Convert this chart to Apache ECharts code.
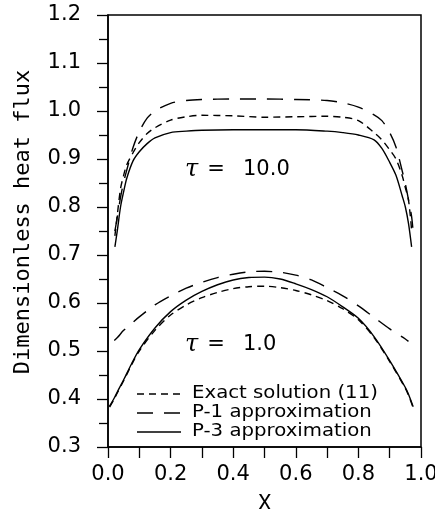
<!DOCTYPE html>
<html>
<head>
<meta charset="utf-8">
<script src="https://cdn.jsdelivr.net/npm/echarts@6/dist/echarts.min.js"></script>
<style>
  html, body { margin: 0; padding: 0; background: #fff; }
  #chart { width: 435px; height: 509px; }
</style>
</head>
<body>
<div id="chart"></div>
<script>
// Dimensionless heat flux across the slab, optical thickness tau = 10.0 and tau = 1.0
const seriesNames = ['Exact solution (11)', 'P-1 approximation', 'P-3 approximation'];

// tau = 10.0
const xTau10 = [0.022, 0.03, 0.04, 0.05, 0.06, 0.08, 0.1, 0.125, 0.15, 0.2, 0.25, 0.3, 0.4, 0.5,
                0.6, 0.7, 0.75, 0.8, 0.85, 0.875, 0.9, 0.92, 0.94, 0.95, 0.96, 0.97, 0.976];
const exactTau10 = [0.740, 0.785, 0.838, 0.866, 0.888, 0.913, 0.934, 0.953, 0.965, 0.981, 0.988, 0.991, 0.990, 0.987,
                    0.988, 0.989, 0.987, 0.980, 0.955, 0.940, 0.919, 0.900, 0.865, 0.840, 0.815, 0.752, null];
const p1Tau10 = [0.750, 0.780, 0.820, 0.852, 0.877, 0.924, 0.957, 0.985, 1.000, 1.016, 1.022, 1.024, 1.025, 1.025,
                 1.024, 1.022, 1.017, 1.008, 0.992, 0.980, 0.955, 0.925, 0.875, 0.848, 0.815, 0.780, 0.740];
const p3Tau10 = [0.717, 0.752, 0.800, 0.832, 0.860, 0.896, 0.915, 0.932, 0.944, 0.955, 0.958, 0.960, 0.961, 0.961,
                 0.961, 0.958, 0.955, 0.950, 0.940, 0.922, 0.893, 0.866, 0.823, 0.800, 0.766, 0.717, null];

// tau = 1.0
const xTau1 = [0.005, 0.02, 0.03, 0.05, 0.075, 0.1, 0.15, 0.2, 0.25, 0.3, 0.35, 0.4, 0.45, 0.5,
               0.55, 0.6, 0.65, 0.7, 0.75, 0.8, 0.85, 0.9, 0.95, 0.96, 0.975];
const exactTau1 = [0.383, 0.400, 0.413, 0.438, 0.471, 0.500, 0.543, 0.575, 0.596, 0.611, 0.622, 0.630, 0.634, 0.635,
                   0.632, 0.626, 0.617, 0.605, 0.588, 0.565, 0.528, 0.478, 0.422, 0.408, 0.382];
const p1Tau1 = [null, 0.522, 0.528, 0.543, 0.557, 0.571, 0.596, 0.615, 0.631, 0.643, 0.653, 0.660, 0.665, 0.666,
                0.664, 0.658, 0.648, 0.632, 0.615, 0.594, 0.570, 0.546, 0.525, 0.520, null];
const p3Tau1 = [0.385, 0.402, 0.415, 0.440, 0.473, 0.503, 0.548, 0.582, 0.606, 0.624, 0.638, 0.648, 0.653, 0.654,
                0.650, 0.640, 0.628, 0.613, 0.592, 0.568, 0.530, 0.480, 0.424, 0.410, 0.384];

const xTicks = [0.0, 0.2, 0.4, 0.6, 0.8, 1.0];
const yTicks = [0.3, 0.4, 0.5, 0.6, 0.7, 0.8, 0.9, 1.0, 1.1, 1.2];

const tauLabels = [
  { value: '10.0', y: 170 },
  { value: '1.0', y: 345 }
];

const dashStyles = [[7, 5], [16, 11], 'solid'];

function zip(xs, ys) {
  return xs.map((x, i) => [x, ys[i]]);
}

function lineSeries(nameIdx, xs, ys) {
  return {
    type: 'line',
    name: seriesNames[nameIdx],
    data: zip(xs, ys),
    symbol: 'none',
    smooth: 0.3,
    connectNulls: false,
    lineStyle: { color: '#000', width: 1.4, type: dashStyles[nameIdx] },
    itemStyle: { color: '#000' },
    emphasis: { disabled: true },
    animation: false
  };
}

const chart = echarts.init(document.getElementById('chart'), null, { renderer: 'canvas' });

const tickFont = { fontFamily: 'DejaVu Sans', fontSize: 21, color: '#000' };

const graphics = [
  {
    type: 'text',
    x: 23, y: 222,
    rotation: Math.PI / 2,
    style: {
      text: 'Dimensionless heat flux',
      fontFamily: 'DejaVu Sans Mono', fontSize: 22, fill: '#000',
      align: 'center', verticalAlign: 'middle'
    }
  }
];

tauLabels.forEach(t => {
  graphics.push(
    { type: 'text', x: 185, y: t.y, style: { text: 'τ', fontFamily: 'DejaVu Serif', fontStyle: 'italic', fontSize: 24, fill: '#000', align: 'left', verticalAlign: 'middle' } },
    { type: 'text', x: 216, y: t.y, style: { text: '=', fontFamily: 'DejaVu Sans', fontSize: 21, fill: '#000', align: 'center', verticalAlign: 'middle' } },
    { type: 'text', x: 243, y: t.y, style: { text: t.value, fontFamily: 'DejaVu Sans', fontSize: 21, fill: '#000', align: 'left', verticalAlign: 'middle' } }
  );
});

// key: line sample followed by its label, one row per curve type
const keyRows = [394, 413, 432];
seriesNames.forEach((name, i) => {
  const dash = dashStyles[i];
  graphics.push(
    {
      type: 'line',
      shape: { x1: 137, y1: keyRows[i], x2: 181, y2: keyRows[i] },
      style: { stroke: '#000', lineWidth: 1.4, lineDash: dash === 'solid' ? null : dash }
    },
    {
      type: 'text', x: 192, y: keyRows[i], scaleX: 1.16,
      style: { text: name, fontFamily: 'DejaVu Sans', fontSize: 17, fill: '#000', align: 'left', verticalAlign: 'middle' }
    }
  );
});

chart.setOption({
  animation: false,
  backgroundColor: '#fff',
  grid: {
    left: 108, right: 14, top: 15, bottom: 62,
    containLabel: false,
    outerBoundsMode: 'none',
    show: true, borderColor: '#000', borderWidth: 1.5, backgroundColor: 'transparent'
  },
  xAxis: {
    type: 'value',
    min: xTicks[0], max: xTicks[xTicks.length - 1], interval: 0.2,
    name: 'X', nameLocation: 'middle', nameGap: 46,
    nameTextStyle: { fontFamily: 'DejaVu Sans Mono', fontSize: 22, color: '#000' },
    axisLine: { show: true, lineStyle: { color: '#000', width: 1.5 } },
    axisTick: { show: true, inside: false, length: 11, lineStyle: { color: '#000', width: 1.3 } },
    minorTick: { show: true, splitNumber: 2, length: 11, lineStyle: { color: '#000', width: 1.3 } },
    splitLine: { show: false },
    axisLabel: Object.assign({ margin: 17, formatter: v => v.toFixed(1) }, tickFont)
  },
  yAxis: {
    type: 'value',
    min: yTicks[0], max: yTicks[yTicks.length - 1], interval: 0.1,
    axisLine: { show: true, lineStyle: { color: '#000', width: 1.5 } },
    axisTick: { show: true, inside: false, length: 11, lineStyle: { color: '#000', width: 1.3 } },
    minorTick: { show: true, splitNumber: 2, length: 9, lineStyle: { color: '#000', width: 1.3 } },
    splitLine: { show: false },
    axisLabel: Object.assign({ margin: 27, formatter: v => v.toFixed(1) }, tickFont)
  },
  series: [
    lineSeries(0, xTau10, exactTau10),
    lineSeries(1, xTau10, p1Tau10),
    lineSeries(2, xTau10, p3Tau10),
    lineSeries(0, xTau1, exactTau1),
    lineSeries(1, xTau1, p1Tau1),
    lineSeries(2, xTau1, p3Tau1)
  ],
  graphic: graphics
});
</script>
</body>
</html>
